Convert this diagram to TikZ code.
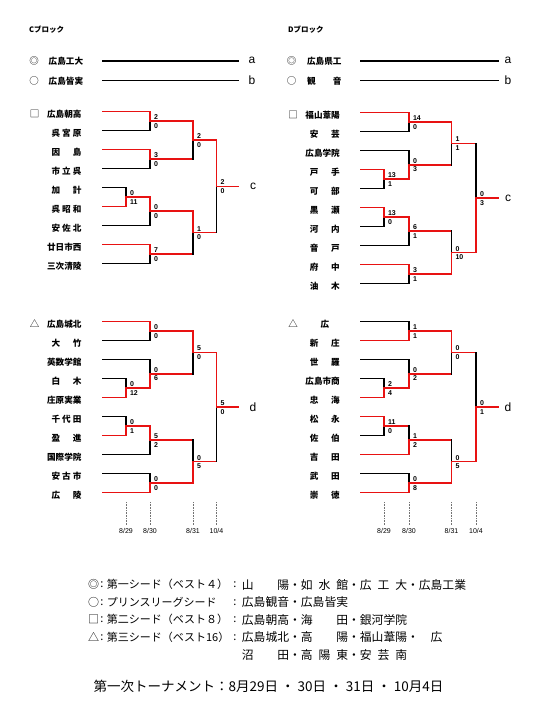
\documentclass[tikz,border=0pt]{standalone}
\usepackage{fontspec}
\newfontfamily\jp{Noto Sans CJK JP}
\newfontfamily\lat{Liberation Sans}
\usetikzlibrary{calc}

\definecolor{winred}{RGB}{232,18,18}

\tikzset{
  lose/.style={line width=1.6pt, black, line cap=rect},
  win/.style={line width=1.6pt, winred, line cap=rect},
  team/.style={font=\jp\bfseries\fontsize{8.6}{9}\selectfont, inner sep=0pt, anchor=east},
  score/.style={font=\lat\bfseries\fontsize{7}{8}\selectfont, inner sep=0.3pt},
  seedmark/.style={font=\jp\fontsize{9.5}{10}\selectfont, inner sep=0pt},
  blocklabel/.style={font=\jp\bfseries\fontsize{7.5}{8}\selectfont, inner sep=0pt, anchor=west},
  endlabel/.style={font=\lat\fontsize{12}{13}\selectfont, inner sep=0pt},
  datelabel/.style={font=\lat\fontsize{7}{8}\selectfont, inner sep=0pt},
  tick/.style={densely dotted, black!55, line width=0.6pt},
  legend/.style={font=\jp\fontsize{11}{12}\selectfont, inner sep=0pt, anchor=west},
  legnames/.style={font=\jp\fontsize{11.8}{12}\selectfont, inner sep=0pt, anchor=west},
  title/.style={font=\jp\fontsize{13.5}{14}\selectfont, inner sep=0pt},
}

% spread a short name over the name column
\newcommand\spread[1]{\makebox[30pt][s]{#1}}
\newcommand\hsp{\hspace{.5em}}

% one game: name, column, upper entry, lower entry, next column, winner (t/b), scores
\newcommand\bout[8]{%
  \coordinate (#1) at ($(#3)!.5!(#4)$);
  \if t#6
    \draw[lose] (#1 -| #2) -- (#4 -| #2);
    \draw[win]  (#3 -| #2) -- (#1 -| #2);
  \else
    \draw[lose] (#3 -| #2) -- (#1 -| #2);
    \draw[win]  (#1 -| #2) -- (#4 -| #2);
  \fi
  \draw[win] (#1 -| #2) -- (#1 -| #5);
  \node[score, anchor=south west, xshift=3.5pt, yshift=1pt] (#1s1) at (#1 -| #2) {#7};
  \node[score, anchor=north west, xshift=3.5pt, yshift=-1.8pt] (#1s2) at (#1 -| #2) {#8};
}

\begin{document}
\begin{tikzpicture}[x=1pt, y=-1pt]
\fill[white] (0,0) rectangle (540,720);
\useasboundingbox (0,0) rectangle (540,720);

% columns
\coordinate (C0) at (103,0);   \coordinate (D0) at (361,0);
\coordinate (Ca) at (126,0);   \coordinate (Da) at (384,0);
\coordinate (Cb) at (150,0);   \coordinate (Db) at (409,0);
\coordinate (Cc) at (193,0);   \coordinate (Dc) at (451.5,0);
\coordinate (Cd) at (216.5,0); \coordinate (Dd) at (476,0);
\coordinate (Ce) at (238,0);   \coordinate (De) at (498,0);

\node[blocklabel] (cblk) at (29,30) {Cブロック};
\node[blocklabel] (dblk) at (288,30) {Dブロック};

% seeded teams
\coordinate (cs1) at (0,60.7); \coordinate (cs2) at (0,80.3);
\node[seedmark] (csm1) at (34,61) {◎};
\node[seedmark] (csm2) at (34,80.6) {○};
\node[team] (cst1) at (83.3,61.5) {広島工大};
\node[team] (cst2) at (83.3,81) {広島皆実};
\draw[lose] (cs1 -| C0) -- (cs1 -| Ce);
\draw[lose] (cs2 -| C0) -- (cs2 -| Ce);
\node[endlabel, xshift=14pt] (ca) at (cs1 -| Ce) {a};
\node[endlabel, xshift=14pt] (cb) at (cs2 -| Ce) {b};

\node[seedmark] (dsm1) at (291.7,61) {◎};
\node[seedmark] (dsm2) at (291.7,80.6) {○};
\node[team] (dst1) at (341.7,61.5) {広島県工};
\node[team] (dst2) at (341.7,81) {\makebox[34.4pt][s]{観 音}};
\draw[lose] (cs1 -| D0) -- (cs1 -| De);
\draw[lose] (cs2 -| D0) -- (cs2 -| De);
\node[endlabel, xshift=10pt] (da) at (cs1 -| De) {a};
\node[endlabel, xshift=10pt] (db) at (cs2 -| De) {b};

% C block, upper half
\foreach \i in {0,...,8} \coordinate (cu\i) at (0,{111.5+19*\i});
\node[seedmark] (cum) at (34.5,114) {□};
\foreach \nm [count=\i from 0] in {広島朝高,{\spread{呉 宮 原}},{\spread{因 島}},{\spread{市 立 呉}},{\spread{加 計}},{\spread{呉 昭 和}},{\spread{安 佐 北}},廿日市西,三次清陵}
  \node[team, xshift=81.7pt, yshift=-2.5pt] (cut\i) at (cu\i) {\nm};
\foreach \rw/\col/\sty in {0/Cb/win,1/Cb/lose,2/Cb/win,3/Cb/lose,4/Ca/lose,5/Ca/win,6/Cb/lose,7/Cb/win,8/Cb/lose}
  \draw[\sty] (cu\rw -| C0) -- (cu\rw -| \col);
\bout{cuP}{Ca}{cu4}{cu5}{Cb}{b}{0}{11}
\bout{cuA}{Cb}{cu0}{cu1}{Cc}{t}{2}{0}
\bout{cuB}{Cb}{cu2}{cu3}{Cc}{t}{3}{0}
\bout{cuC}{Cb}{cuP}{cu6}{Cc}{t}{0}{0}
\bout{cuD}{Cb}{cu7}{cu8}{Cc}{t}{7}{0}
\bout{cuE}{Cc}{cuA}{cuB}{Cd}{t}{2}{0}
\bout{cuF}{Cc}{cuC}{cuD}{Cd}{t}{1}{0}
\bout{cuG}{Cd}{cuE}{cuF}{Ce}{t}{2}{0}
\node[endlabel, xshift=15pt] (cuc) at (cuG -| Ce) {c};

% D block, upper half
\foreach \i in {0,...,9} \coordinate (du\i) at (0,{112.5+19*\i});
\node[seedmark] (dum) at (293,115) {□};
\foreach \nm [count=\i from 0] in {福山葦陽,{\spread{安 芸}},広島学院,{\spread{戸 手}},{\spread{可 部}},{\spread{黒 瀬}},{\spread{河 内}},{\spread{音 戸}},{\spread{府 中}},{\spread{油 木}}}
  \node[team, xshift=340pt, yshift=-2.5pt] (dut\i) at (du\i) {\nm};
\foreach \rw/\col/\sty in {0/Db/win,1/Db/lose,2/Db/lose,3/Da/win,4/Da/lose,5/Da/win,6/Da/lose,7/Db/lose,8/Db/win,9/Db/lose}
  \draw[\sty] (du\rw -| D0) -- (du\rw -| \col);
\bout{duP}{Da}{du3}{du4}{Db}{t}{13}{1}
\bout{duQ}{Da}{du5}{du6}{Db}{t}{13}{0}
\bout{duA}{Db}{du0}{du1}{Dc}{t}{14}{0}
\bout{duB}{Db}{du2}{duP}{Dc}{b}{0}{3}
\bout{duC}{Db}{duQ}{du7}{Dc}{t}{6}{1}
\bout{duD}{Db}{du8}{du9}{Dc}{t}{3}{1}
\bout{duE}{Dc}{duA}{duB}{Dd}{t}{1}{1}
\bout{duF}{Dc}{duC}{duD}{Dd}{b}{0}{10}
\bout{duG}{Dd}{duE}{duF}{De}{b}{0}{3}
\node[endlabel, xshift=10pt] (duc) at (duG -| De) {c};

% C block, lower half
\foreach \i in {0,...,9} \coordinate (cl\i) at (0,{321.5+19*\i});
\node[seedmark] (clm) at (34.5,324) {△};
\foreach \nm [count=\i from 0] in {広島城北,{\spread{大 竹}},英数学館,{\spread{白 木}},庄原実業,{\spread{千 代 田}},{\spread{盈 進}},国際学院,{\spread{安 古 市}},{\spread{広 陵}}}
  \node[team, xshift=81.7pt, yshift=-2.5pt] (clt\i) at (cl\i) {\nm};
\foreach \rw/\col/\sty in {0/Cb/win,1/Cb/lose,2/Cb/lose,3/Ca/lose,4/Ca/win,5/Ca/lose,6/Ca/win,7/Cb/lose,8/Cb/lose,9/Cb/win}
  \draw[\sty] (cl\rw -| C0) -- (cl\rw -| \col);
\bout{clP}{Ca}{cl3}{cl4}{Cb}{b}{0}{12}
\bout{clQ}{Ca}{cl5}{cl6}{Cb}{b}{0}{1}
\bout{clA}{Cb}{cl0}{cl1}{Cc}{t}{0}{0}
\bout{clB}{Cb}{cl2}{clP}{Cc}{b}{0}{6}
\bout{clC}{Cb}{clQ}{cl7}{Cc}{t}{5}{2}
\bout{clD}{Cb}{cl8}{cl9}{Cc}{b}{0}{0}
\bout{clE}{Cc}{clA}{clB}{Cd}{t}{5}{0}
\bout{clF}{Cc}{clC}{clD}{Cd}{b}{0}{5}
\bout{clG}{Cd}{clE}{clF}{Ce}{t}{5}{0}
\node[endlabel, xshift=15pt] (cld) at (clG -| Ce) {d};

% D block, lower half
\foreach \i in {0,...,9} \coordinate (dl\i) at (0,{321.5+19*\i});
\node[seedmark] (dlm) at (293,324) {△};
\foreach \nm [count=\i from 0] in {{\makebox[30pt]{広}},{\spread{新 庄}},{\spread{世 羅}},広島市商,{\spread{忠 海}},{\spread{松 永}},{\spread{佐 伯}},{\spread{吉 田}},{\spread{武 田}},{\spread{崇 徳}}}
  \node[team, xshift=340pt, yshift=-2.5pt] (dlt\i) at (dl\i) {\nm};
\foreach \rw/\col/\sty in {0/Db/lose,1/Db/win,2/Db/lose,3/Da/lose,4/Da/win,5/Da/win,6/Da/lose,7/Db/win,8/Db/lose,9/Db/win}
  \draw[\sty] (dl\rw -| D0) -- (dl\rw -| \col);
\bout{dlP}{Da}{dl3}{dl4}{Db}{b}{2}{4}
\bout{dlQ}{Da}{dl5}{dl6}{Db}{t}{11}{0}
\bout{dlA}{Db}{dl0}{dl1}{Dc}{b}{1}{1}
\bout{dlB}{Db}{dl2}{dlP}{Dc}{b}{0}{2}
\bout{dlC}{Db}{dlQ}{dl7}{Dc}{b}{1}{2}
\bout{dlD}{Db}{dl8}{dl9}{Dc}{b}{0}{8}
\bout{dlE}{Dc}{dlA}{dlB}{Dd}{t}{0}{0}
\bout{dlF}{Dc}{dlC}{dlD}{Dd}{b}{0}{5}
\bout{dlG}{Dd}{dlE}{dlF}{De}{b}{0}{1}
\node[endlabel, xshift=10pt] (dld) at (dlG -| De) {d};

% dates
\coordinate (tk1) at (0,502); \coordinate (tk2) at (0,525); \coordinate (tk3) at (0,531);
\foreach \col/\dt in {Ca/{8/29},Cb/{8/30},Cc/{8/31},Cd/{10/4},Da/{8/29},Db/{8/30},Dc/{8/31},Dd/{10/4}} {
  \draw[tick] (tk1 -| \col) -- (tk2 -| \col);
  \node[datelabel] (dt\col) at (tk3 -| \col) {\dt};
}

% legend
\foreach \mk/\ds/\nms [count=\k] in {
  ◎/{第一シード（ベスト４）}/{山　　陽・如\hsp 水\hsp 館・広\hsp 工\hsp 大・広島工業},
  ○/{プリンスリーグシード}/{広島観音・広島皆実},
  □/{第二シード（ベスト８）}/{広島朝高・海　　田・銀河学院},
  △/{第三シード（ベスト16）}/{広島城北・高　　陽・福山葦陽・　広}} {
  \node[legend, anchor=center] (lm\k) at (93.5,{567.3+17.5*\k}) {\mk};
  \node[legend, anchor=center] (lc\k) at (102,{567.3+17.5*\k}) {:};
  \node[legend] (ld\k) at (106.7,{567.3+17.5*\k}) {\ds};
  \node[legend, anchor=center] (le\k) at (235,{567.3+17.5*\k}) {:};
  \node[legnames] (ln\k) at (241.7,{567.3+17.5*\k}) {\nms};
}
\node[legnames] (ln5) at (241.7,654.7) {沼　　田・高\hsp 陽\hsp 東・安\hsp 芸\hsp 南};

\node[title] (ttl) at (268.5,686.7) {第一次トーナメント：8月29日 ・ 30日 ・ 31日 ・ 10月4日};
\end{tikzpicture}
\end{document}
